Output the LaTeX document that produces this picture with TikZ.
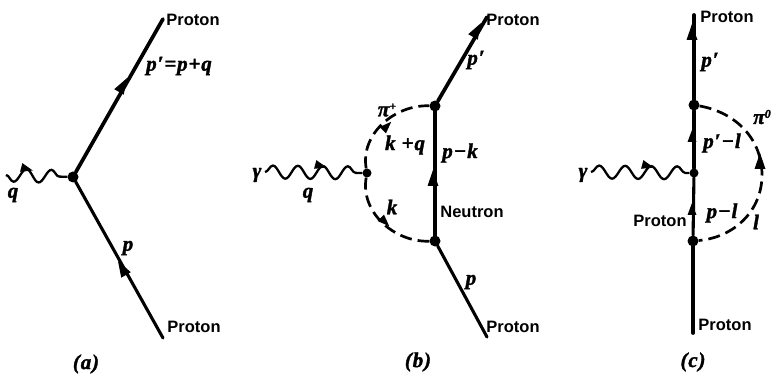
\documentclass[tikz,border=0pt]{standalone}
\usepackage{fontspec}
\setmainfont{Liberation Sans}
\newfontfamily\ital[BoldItalicFeatures={FakeBold=1.6,LetterSpace=4}]{Liberation Serif}
\usetikzlibrary{decorations.pathmorphing}
\tikzset{
  x=1pt,y=-1pt,
  vertexdot/.style={circle,fill=black,inner sep=0pt,minimum size=11pt},
  smalldot/.style={circle,fill=black,inner sep=0pt,minimum size=9pt},
  fermion/.style={line width=3.7pt,line cap=round},
  fermionthin/.style={line width=3.1pt,line cap=round},
  boson/.style={line width=2.3pt,decorate,decoration={snake,segment length=25pt,amplitude=6.5pt}},
  bosonm/.style={line width=2.3pt,decorate,decoration={snake,segment length=25pt,amplitude=6.5pt,mirror}},
  bosonw/.style={line width=2.3pt,decorate,decoration={snake,segment length=26pt,amplitude=6.5pt}},
  meson/.style={line width=2.7pt,dash pattern=on 12pt off 6pt},
  name label/.style={font=\fontsize{16.5}{16.5}\selectfont\bfseries,inner sep=0pt},
  mom/.style={font=\fontsize{21}{21}\selectfont\ital\bfseries\itshape,inner sep=0pt},
  tiphead/.pic={\fill (-8,-5.5) -- (8,0) -- (-8,5.5) -- cycle;},
  smalltip/.pic={\fill (-6,-4.5) -- (6,0) -- (-6,4.5) -- cycle;}
}
\begin{document}
\begin{tikzpicture}
\useasboundingbox (0,0) rectangle (771,374);
% (a)
\node[vertexdot] (av) at (73,177) {};
\coordinate (atop) at (163,19);
\coordinate (abot) at (163,338);
\coordinate (aw) at (6,175);
\draw[fermion] (av) -- (atop);
\draw[fermionthin] (abot) -- (av);
\draw[bosonm] (aw) -- (av);
\pic[rotate=-15] at (27,169) {smalltip};
\pic[rotate=60] at (123,85) {tiphead};
\pic[rotate=120] at (122,268) {tiphead};
\node[name label] (a1) at (193,20) {Proton};
\node[name label] (a2) at (194,327) {Proton};
\node[mom] (a3) at (179,66) {p′=p+q};
\node[mom] (a4) at (128,248) {p};
\node[mom] (a5) at (13,195) {q};
\node[mom] (a6) at (86,364) {(a)};
% (b)
\node[smalldot] (bl) at (367,173) {};
\node[vertexdot] (bt) at (435,106) {};
\node[vertexdot] (bb) at (435,241) {};
\coordinate (bte) at (487,17);
\coordinate (bbe) at (487,337);
\coordinate (bw) at (265,172);
\draw[fermion] (bt) -- (bte);
\draw[fermion] (bb) -- (bt);
\draw[fermionthin] (bbe) -- (bb);
\draw[boson] (bw) -- (bl);
\draw[meson] (bl) to[out=100,in=178] (bt);
\draw[meson] (bl) to[out=-100,in=182] (bb);
\pic[rotate=60] at (477,30) {tiphead};
\pic[rotate=90] at (433,178) {tiphead};
\pic[rotate=-15] at (321,166) {smalltip};
\pic[rotate=45] at (387,126) {smalltip};
\pic[rotate=-45] at (385,222) {smalltip};
\node[name label] (b1) at (513,20) {Proton};
\node[name label] (b2) at (513,327) {Proton};
\node[name label] (b3) at (472,212) {Neutron};
\node[mom] (b4) at (476,60) {p′};
\node[mom] (b5) at (460,153) {p−k};
\node[mom] (b6) at (405,145) {k +q};
\node[mom] (b7) at (387,110) {π\raisebox{6pt}{\fontsize{12}{12}\selectfont +}};
\node[mom] (b8) at (392,207) {k};
\node[mom] (b9) at (308,195) {q};
\node[mom] (b10) at (471,282) {p};
\node[mom] (b11) at (257,175) {γ};
\node[mom] (b12) at (418,362) {(b)};
% (c)
\coordinate (cte) at (694,15);
\coordinate (cbe) at (693,333);
\node[vertexdot] (ct) at (694,105) {};
\node[smalldot] (cm) at (694,173) {};
\node[vertexdot] (cb) at (693,241) {};
\coordinate (ce) at (762,175);
\coordinate (cw) at (591,172);
\draw[fermion] (ct) -- (cte);
\draw[fermionthin] (cm) -- (ct);
\draw[fermionthin] (cb) -- (cm);
\draw[fermion] (cbe) -- (cb);
\draw[bosonw] (cw) -- (cm);
\draw[meson] (ct) to[out=-10,in=90] (ce) to[out=-90,in=5] (cb);
\pic[rotate=90] at (692,32) {tiphead};
\pic[rotate=90] at (692,136) {smalltip};
\pic[rotate=90] at (692,209) {smalltip};
\pic[rotate=-15] at (648,166) {smalltip};
\pic[rotate=90] at (760,161) {tiphead};
\node[name label] (c1) at (727,17) {Proton};
\node[name label] (c2) at (725,325) {Proton};
\node[name label] (c3) at (660,221) {Proton};
\node[mom] (c4) at (710,62) {p′};
\node[mom] (c5) at (722,143) {p′−l};
\node[mom] (c6) at (722,213) {p−l};
\node[mom] (c7) at (756,222) {l};
\node[mom] (c8) at (762,117) {π\raisebox{6pt}{\fontsize{12}{12}\selectfont 0}};
\node[mom] (c9) at (583,175) {γ};
\node[mom] (c10) at (693,362) {(c)};
\end{tikzpicture}
\end{document}
